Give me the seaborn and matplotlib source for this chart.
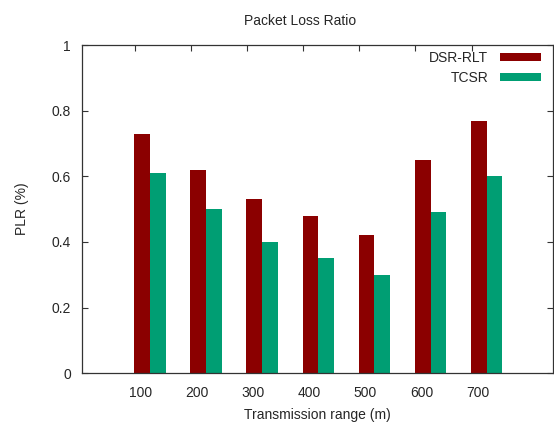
# ==================== IMPORTS ====================
import matplotlib
matplotlib.use("Agg")
import matplotlib.pyplot as plt
import seaborn as sns
import pandas as pd

# ==================== DATA ====================
ranges = ["100", "200", "300", "400", "500", "600", "700"]
dsr_rlt = [0.73, 0.62, 0.53, 0.48, 0.42, 0.65, 0.77]
tcsr = [0.61, 0.50, 0.40, 0.35, 0.30, 0.49, 0.60]
series = ["DSR-RLT", "TCSR"]
colors = ["#8b0000", "#009e73"]
yticks = [0, 0.2, 0.4, 0.6, 0.8, 1]
ytick_labels = ["0", "0.2", "0.4", "0.6", "0.8", "1"]

df = pd.DataFrame({
    "range": ranges * 2,
    "plr": dsr_rlt + tcsr,
    "method": [series[0]] * len(ranges) + [series[1]] * len(ranges),
})

# ==================== PLOT ====================
sns.set_style("white")
plt.rcParams["font.family"] = ["Liberation Sans", "DejaVu Sans"]
fig = plt.figure(figsize=(5.54, 4.23), dpi=100)
ax = fig.add_axes([0.148, 0.118, 0.85, 0.775])
sns.barplot(data=df, x="range", y="plr", hue="method", order=ranges,
            hue_order=series, palette=colors, width=0.56, saturation=1,
            edgecolor="none", ax=ax)

ax.set_xlim(-1.21, 7.18)
ax.set_ylim(0, 1)
ax.set_yticks(yticks)
ax.set_yticklabels(ytick_labels, fontsize=10)
# gnuplot style: tic marks at left edge of each cluster (top only, bars hide bottom ones)
n = len(ranges)
ax.set_xticks([i - 0.27 for i in range(n)])
ax.set_xticklabels([])
ax.set_xticks([i - 0.16 for i in range(n)], minor=True)
ax.set_xticklabels(ranges, minor=True, fontsize=10)
ax.tick_params(axis="x", which="major", direction="in", length=4, width=0.8,
               color="#333333", top=True, bottom=False)
ax.tick_params(axis="x", which="minor", length=0, pad=9, top=False, bottom=True)
ax.tick_params(axis="y", direction="in", length=4, width=0.8, color="#333333",
               left=True, right=True, pad=8)
for s in ax.spines.values():
    s.set_visible(True)
    s.set_color("#333333")
    s.set_linewidth(0.9)

ax.set_xlabel("Transmission range (m)", fontsize=10, labelpad=6)
ax.set_ylabel("PLR (%)", fontsize=10, labelpad=16)
ax.set_title("Packet Loss Ratio", fontsize=10, pad=14.5, x=0.463)

ax.legend(loc="upper right", frameon=False, markerfirst=False, fontsize=10,
          handlelength=3.0, handleheight=0.45, handletextpad=0.8,
          labelspacing=0.45, borderaxespad=0.0, bbox_to_anchor=(0.987, 1.0))

plt.savefig("out.png", dpi=100)
plt.close()
